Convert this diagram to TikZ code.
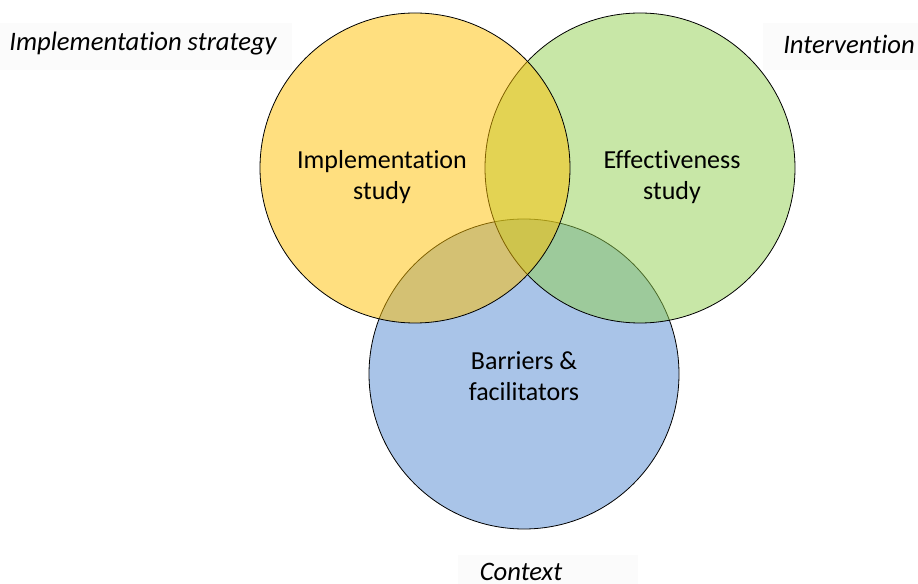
\documentclass[tikz,border=0pt]{standalone}
\usepackage{fontspec}
\setmainfont[Ligatures=NoCommon]{Carlito}
\usetikzlibrary{positioning}
\definecolor{vennblue}{HTML}{A9C4E8}
\definecolor{venngreen}{HTML}{92D050}
\definecolor{vennyellow}{HTML}{FFC000}
\definecolor{labelbg}{HTML}{FBFBFB}
\begin{document}
\begin{tikzpicture}[x=0.75pt, y=-0.75pt,
venn/.style={circle, draw=black, line width=0.6pt, minimum size=232.5pt, inner sep=0pt},
inside/.style={align=center, font=\fontsize{19.5}{23.25}\selectfont},
outside/.style={font=\fontsize{20}{24}\selectfont\itshape},
labelbox/.style={fill=labelbg, draw=none}
]
\useasboundingbox (0,0) rectangle (918,584);
% label backgrounds
\fill[labelbox] (0,23) rectangle (292,70);
\fill[labelbox] (763,23) rectangle (918,70);
\fill[labelbox] (458,555) rectangle (638,584);
% circles
\node[venn, fill=vennblue] (context) at (524,374) {};
\node[venn, fill=venngreen, fill opacity=0.5] (effect) at (640,168) {};
\node[venn, fill=vennyellow, fill opacity=0.5] (impl) at (415,168) {};
% texts
\node[inside] (impltext) at (382,177) {Implementation\\study};
\node[inside] (effecttext) at (672,177) {Effectiveness\\study};
\node[inside] (barriers) at (524,376) {Barriers \&\\facilitators};
\node[outside] (strategy) at (143,44) {Implementation strategy};
\node[outside] (intervention) at (849,44) {Intervention};
\node[outside] (contextlabel) at (521,572) {Context};
\end{tikzpicture}
\end{document}
